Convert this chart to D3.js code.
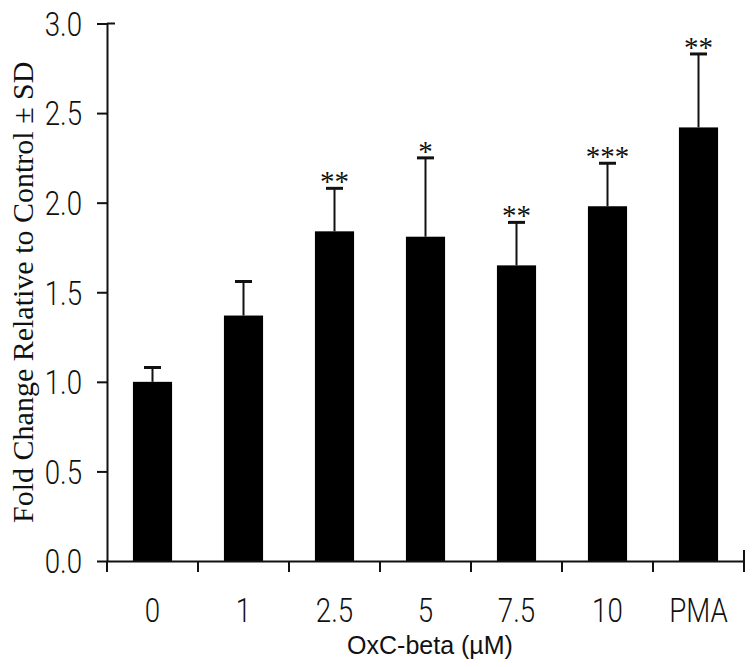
<!DOCTYPE html>
<html>
<head>
<meta charset="utf-8">
<script src="https://cdn.jsdelivr.net/npm/d3@7"></script>
<style>
  html, body { margin: 0; padding: 0; background: #fff; }
  svg { display: block; }
</style>
</head>
<body>
<svg id="chart" width="754" height="667"></svg>
<script>
const categories = ["0", "1", "2.5", "5", "7.5", "10", "PMA"];
const means = [1.00, 1.37, 1.84, 1.81, 1.65, 1.98, 2.42];
const sds = [0.08, 0.19, 0.24, 0.44, 0.24, 0.24, 0.41];
const significance = ["", "", "**", "*", "**", "***", "**"];
const yTicks = [0, 0.5, 1.0, 1.5, 2.0, 2.5, 3.0];
const xTitle = "OxC-beta (µM)";
const yTitle = "Fold Change Relative to Control ± SD";

(function () {
const svg = d3.select("#chart");
const pLeft = 107, pRight = 744, pBottom = 561, pTop = 23.5;

const x = d3.scaleBand().domain(categories).range([pLeft, pRight]).padding(0);
const y = d3.scaleLinear().domain([0, 3]).range([pBottom, pTop]);
const barW = x.bandwidth() * 0.43;
const cx = c => x(c) + x.bandwidth() / 2;

const data = categories.map((c, i) => ({ c, m: means[i], sd: sds[i], s: significance[i] }));

// bars
svg.append("g").selectAll("rect").data(data).join("rect")
  .attr("x", d => cx(d.c) - barW / 2)
  .attr("y", d => y(d.m))
  .attr("width", barW)
  .attr("height", d => y(0) - y(d.m))
  .attr("fill", "#000");

// error bars
const eg = svg.append("g").attr("stroke", "#111");
eg.selectAll("line.w").data(data).join("line").attr("class", "w")
  .attr("x1", d => cx(d.c)).attr("x2", d => cx(d.c))
  .attr("y1", d => y(d.m)).attr("y2", d => y(d.m + d.sd))
  .attr("stroke-width", 2);
eg.selectAll("line.c").data(data).join("line").attr("class", "c")
  .attr("x1", d => cx(d.c) - 8.5).attr("x2", d => cx(d.c) + 8.5)
  .attr("y1", d => y(d.m + d.sd)).attr("y2", d => y(d.m + d.sd))
  .attr("stroke-width", 3);

// significance stars
svg.append("g").selectAll("text").data(data).join("text")
  .attr("x", d => cx(d.c))
  .attr("y", d => y(d.m + d.sd) + 3)
  .attr("text-anchor", "middle")
  .attr("font-family", "'Liberation Serif', 'Times New Roman', serif")
  .attr("font-size", 29)
  .attr("fill", "#111")
  .text(d => d.s);

// y axis
const sx = 0.84;
const yAxis = svg.append("g").attr("transform", `translate(${pLeft},0)`)
  .call(d3.axisLeft(y).tickValues(yTicks).tickFormat(d3.format(".1f")).tickSize(10).tickSizeOuter(0));
yAxis.select(".domain").attr("stroke", "#111").attr("stroke-width", 2);
yAxis.selectAll(".tick line").attr("stroke", "#111").attr("stroke-width", 2);
yAxis.selectAll(".tick text")
  .attr("x", -25 / sx).attr("dy", "0.36em")
  .attr("transform", `scale(${sx},1)`)
  .attr("font-family", "Roboto, 'Liberation Sans', sans-serif")
  .attr("font-weight", 300)
  .attr("font-size", 33)
  .attr("fill", "#111");
svg.append("line")
  .attr("x1", pLeft).attr("x2", pLeft + 8)
  .attr("y1", y(3)).attr("y2", y(3))
  .attr("stroke", "#111").attr("stroke-width", 2);

// x axis
const xAxis = svg.append("g").attr("transform", `translate(0,${pBottom})`)
  .call(d3.axisBottom(x).tickSize(0).tickSizeOuter(0));
xAxis.select(".domain").attr("stroke", "#111").attr("stroke-width", 2);
xAxis.selectAll(".tick text")
  .attr("y", 61).attr("dy", 0).attr("x", 0)
  .attr("transform", `scale(${sx},1)`)
  .attr("font-family", "Roboto, 'Liberation Sans', sans-serif")
  .attr("font-weight", 300)
  .attr("font-size", 33)
  .attr("fill", "#111");

// boundary ticks
const bounds = d3.range(categories.length + 1).map(i => x.range()[0] + i * x.bandwidth());
svg.append("g").selectAll("line").data(bounds).join("line")
  .attr("x1", d => d).attr("x2", d => d)
  .attr("y1", (d, i) => i === bounds.length - 1 ? pBottom - 11 : pBottom)
  .attr("y2", pBottom + 11)
  .attr("stroke", "#111").attr("stroke-width", 2);

// titles
svg.append("text")
  .attr("x", 430).attr("y", 654)
  .attr("text-anchor", "middle")
  .attr("font-family", "'Liberation Sans', Arial, sans-serif")
  .attr("font-size", 25)
  .attr("fill", "#111")
  .text(xTitle);

svg.append("text")
  .attr("transform", `translate(33,${(pTop + pBottom) / 2}) rotate(-90)`)
  .attr("text-anchor", "middle")
  .attr("font-family", "'Liberation Serif', 'Times New Roman', serif")
  .attr("font-size", 30)
  .attr("fill", "#111")
  .text(yTitle);
})();
</script>
</body>
</html>
